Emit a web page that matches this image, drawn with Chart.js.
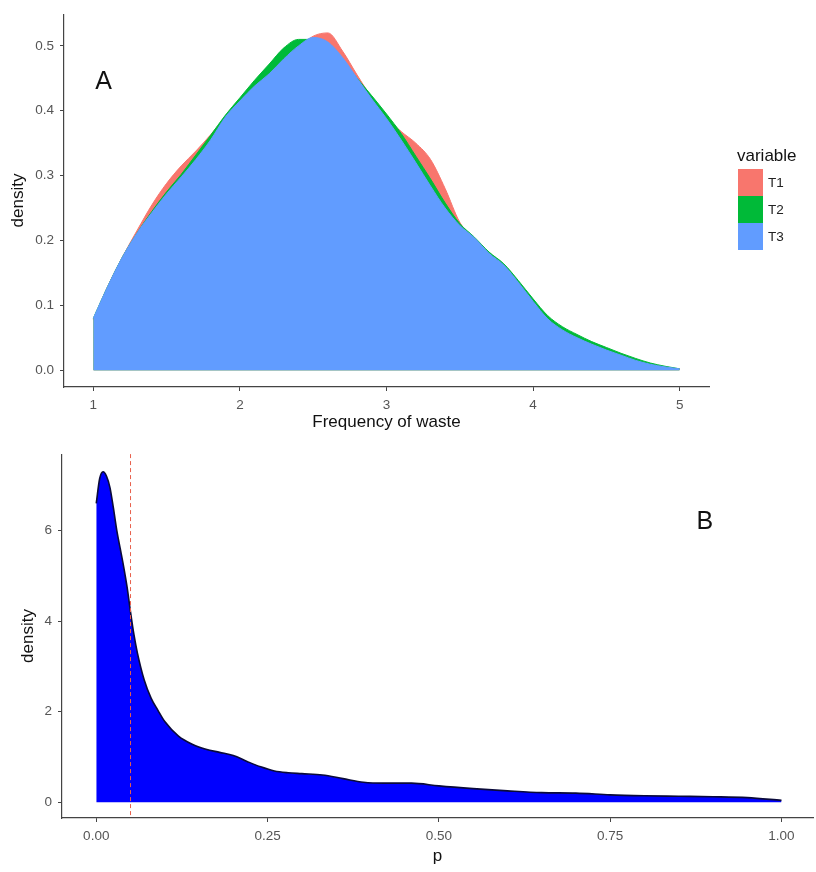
<!DOCTYPE html>
<html>
<head>
<meta charset="utf-8">
<script src="https://cdn.jsdelivr.net/npm/chart.js@4.4.1/dist/chart.umd.min.js"></script>
<style>
  html, body { margin: 0; padding: 0; background: #fff; }
  .panel { position: absolute; left: 0; width: 816px; }
  #panelA { top: 0; height: 440px; }
  #panelB { top: 440px; height: 432px; }
</style>
</head>
<body>
<div class="panel" id="panelA"><canvas id="chartA"></canvas></div>
<div class="panel" id="panelB"><canvas id="chartB"></canvas></div>
<script>
// panel A: density of waste frequency per treatment
const wasteFreq = [1.0, 1.1, 1.2, 1.3, 1.4, 1.5, 1.6, 1.7, 1.8, 1.9,
                   2.0, 2.1, 2.2, 2.3, 2.4, 2.5, 2.6, 2.7, 2.8, 2.9,
                   3.0, 3.1, 3.2, 3.3, 3.4, 3.5, 3.6, 3.7, 3.8, 3.9,
                   4.0, 4.1, 4.2, 4.3, 4.4, 4.5, 4.6, 4.7, 4.8, 4.9, 5.0];
const densityT1 = [0.078, 0.130, 0.175, 0.216, 0.255, 0.288, 0.315, 0.338, 0.363, 0.390,
                   0.413, 0.433, 0.452, 0.475, 0.497, 0.515, 0.520, 0.492, 0.455, 0.420,
                   0.390, 0.368, 0.350, 0.325, 0.280, 0.228, 0.202, 0.180, 0.160, 0.132,
                   0.103, 0.077, 0.060, 0.048, 0.038, 0.029, 0.021, 0.014, 0.008, 0.004, 0.002];
const densityT2 = [0.080, 0.130, 0.175, 0.212, 0.245, 0.275, 0.302, 0.332, 0.362, 0.393,
                   0.420, 0.447, 0.472, 0.497, 0.510, 0.510, 0.498, 0.477, 0.450, 0.423,
                   0.395, 0.365, 0.330, 0.295, 0.258, 0.226, 0.205, 0.182, 0.164, 0.138,
                   0.110, 0.084, 0.067, 0.055, 0.044, 0.035, 0.026, 0.018, 0.011, 0.006, 0.002];
const densityT3 = [0.080, 0.130, 0.175, 0.212, 0.243, 0.272, 0.298, 0.325, 0.355, 0.390,
                   0.415, 0.438, 0.457, 0.480, 0.500, 0.513, 0.506, 0.482, 0.450, 0.418,
                   0.388, 0.355, 0.320, 0.284, 0.250, 0.223, 0.204, 0.180, 0.162, 0.135,
                   0.106, 0.079, 0.062, 0.050, 0.040, 0.031, 0.023, 0.015, 0.009, 0.005, 0.002];
const seriesNames = ['T1', 'T2', 'T3'];
const seriesColors = ['#F8766D', '#00BA38', '#619CFF'];
const xTicksA = [1, 2, 3, 4, 5];
const yTicksA = [0, 0.1, 0.2, 0.3, 0.4, 0.5];

// panel B: density of p
const pValues = [0, 0.005, 0.01, 0.015, 0.02, 0.025, 0.03, 0.035, 0.04, 0.045,
                 0.05, 0.055, 0.06, 0.07, 0.08, 0.09, 0.1, 0.12, 0.14, 0.16,
                 0.18, 0.2, 0.22, 0.24, 0.26, 0.28, 0.3, 0.33, 0.36, 0.39,
                 0.42, 0.46, 0.5, 0.55, 0.6, 0.65, 0.7, 0.75, 0.8, 0.85,
                 0.9, 0.95, 1.0];
const pDensity = [6.6, 7.15, 7.3, 7.2, 6.95, 6.5, 6.0, 5.6, 5.2, 4.75,
                  4.2, 3.7, 3.3, 2.7, 2.3, 2.03, 1.78, 1.46, 1.28, 1.17,
                  1.1, 1.03, 0.9, 0.78, 0.69, 0.65, 0.63, 0.6, 0.52, 0.44,
                  0.42, 0.42, 0.36, 0.3, 0.25, 0.21, 0.2, 0.16, 0.14, 0.13,
                  0.12, 0.1, 0.04];
const pCutoff = 0.05;
const xTicksB = [0, 0.25, 0.5, 0.75, 1];
const yTicksB = [0, 2, 4, 6];

Chart.defaults.font.family = '"Liberation Sans", Arial, sans-serif';
Chart.defaults.animation = false;

function axis(opts) {
  return {
    type: 'linear',
    min: opts.min,
    max: opts.max,
    afterBuildTicks: s => { s.ticks = opts.ticks.map(v => ({ value: v })); },
    afterFit: s => { if (opts.width) s.width = opts.width; if (opts.height) s.height = opts.height; },
    ticks: { callback: opts.fmt, color: '#555', font: { size: 13.5 }, padding: 6, maxRotation: 0, autoSkip: false },
    grid: { drawOnChartArea: false, drawTicks: true, tickLength: 4, color: '#444' },
    border: { display: true, color: '#444', width: 1.2 },
    title: { display: true, text: opts.title, color: '#111', font: { size: 17 }, padding: opts.titlePad }
  };
}

const panelLabel = {
  id: 'panelLabel',
  afterDatasetsDraw(chart, args, o) {
    const { ctx, scales } = chart;
    ctx.save();
    ctx.fillStyle = '#111';
    ctx.font = '25px "Liberation Sans", Arial, sans-serif';
    ctx.textAlign = 'center';
    ctx.textBaseline = 'middle';
    ctx.fillText(o.text, scales.x.getPixelForValue(o.x), scales.y.getPixelForValue(o.y));
    ctx.restore();
  }
};

const fillLegend = {
  id: 'fillLegend',
  afterDraw(chart, args, o) {
    if (!o.show) return;
    const { ctx, chartArea } = chart;
    const x0 = chartArea.right + 28;
    let y = 169;
    ctx.save();
    ctx.fillStyle = '#111';
    ctx.font = '17px "Liberation Sans", Arial, sans-serif';
    ctx.textBaseline = 'middle';
    ctx.fillText(o.title, x0, 156);
    ctx.font = '13.5px "Liberation Sans", Arial, sans-serif';
    chart.data.datasets.forEach(ds => {
      ctx.fillStyle = ds.backgroundColor;
      ctx.fillRect(x0 + 1, y, 25, 27);
      ctx.fillStyle = '#222';
      ctx.fillText(ds.label, x0 + 31, y + 14);
      y += 27;
    });
    ctx.restore();
  }
};

const cutoffLine = {
  id: 'cutoffLine',
  afterDatasetsDraw(chart, args, o) {
    if (o.value === undefined) return;
    const { ctx, chartArea, scales } = chart;
    const x = scales.x.getPixelForValue(o.value);
    ctx.save();
    ctx.strokeStyle = '#e8604c';
    ctx.lineWidth = 1;
    ctx.setLineDash([4, 3]);
    ctx.beginPath();
    ctx.moveTo(x, chartArea.top);
    ctx.lineTo(x, chartArea.bottom);
    ctx.stroke();
    ctx.restore();
  }
};

const seriesA = [densityT1, densityT2, densityT3];

new Chart(document.getElementById('chartA'), {
  type: 'scatter',
  data: {
    datasets: seriesA.map((vals, i) => ({
      label: seriesNames[i],
      data: wasteFreq.map((x, j) => ({ x: x, y: vals[j] })),
      showLine: true,
      fill: 'origin',
      backgroundColor: seriesColors[i],
      borderColor: seriesColors[i],
      borderWidth: 1,
      pointRadius: 0,
      cubicInterpolationMode: 'monotone',
      order: seriesA.length - i
    }))
  },
  options: {
    responsive: true,
    maintainAspectRatio: false,
    layout: { padding: { left: 0, top: 10, right: 107, bottom: 0 } },
    plugins: {
      legend: { display: false },
      tooltip: { enabled: false },
      panelLabel: { text: 'A', x: 1.07, y: 0.444 },
      fillLegend: { show: true, title: 'variable' }
    },
    scales: {
      x: axis({ min: 0.8, max: 5.2, ticks: xTicksA, height: 53, fmt: v => String(v),
                title: 'Frequency of waste', titlePad: { top: 0, bottom: 7 } }),
      y: axis({ min: -0.026, max: 0.549, ticks: yTicksA, width: 64, fmt: v => v.toFixed(1),
                title: 'density', titlePad: { top: 8, bottom: 0 } })
    }
  },
  plugins: [panelLabel, fillLegend]
});

new Chart(document.getElementById('chartB'), {
  type: 'scatter',
  data: {
    datasets: [{
      label: 'p',
      data: pValues.map((x, j) => ({ x: x, y: pDensity[j] })),
      showLine: true,
      fill: 'origin',
      backgroundColor: '#0000ff',
      borderColor: '#0a0a3a',
      borderWidth: 1.6,
      pointRadius: 0,
      cubicInterpolationMode: 'monotone'
    }]
  },
  options: {
    responsive: true,
    maintainAspectRatio: false,
    layout: { padding: { left: 0, top: 2, right: 3, bottom: 0 } },
    plugins: {
      legend: { display: false },
      tooltip: { enabled: false },
      panelLabel: { text: 'B', x: 0.888, y: 6.19 },
      cutoffLine: { value: pCutoff }
    },
    scales: {
      x: axis({ min: -0.05, max: 1.046, ticks: xTicksB, height: 54, fmt: v => v.toFixed(2),
                title: 'p', titlePad: { top: 0, bottom: 5 } }),
      y: axis({ min: -0.35, max: 7.69, ticks: yTicksB, width: 62, fmt: v => String(v),
                title: 'density', titlePad: { top: 18, bottom: 0 } })
    }
  },
  plugins: [panelLabel, cutoffLine]
});
</script>
</body>
</html>
